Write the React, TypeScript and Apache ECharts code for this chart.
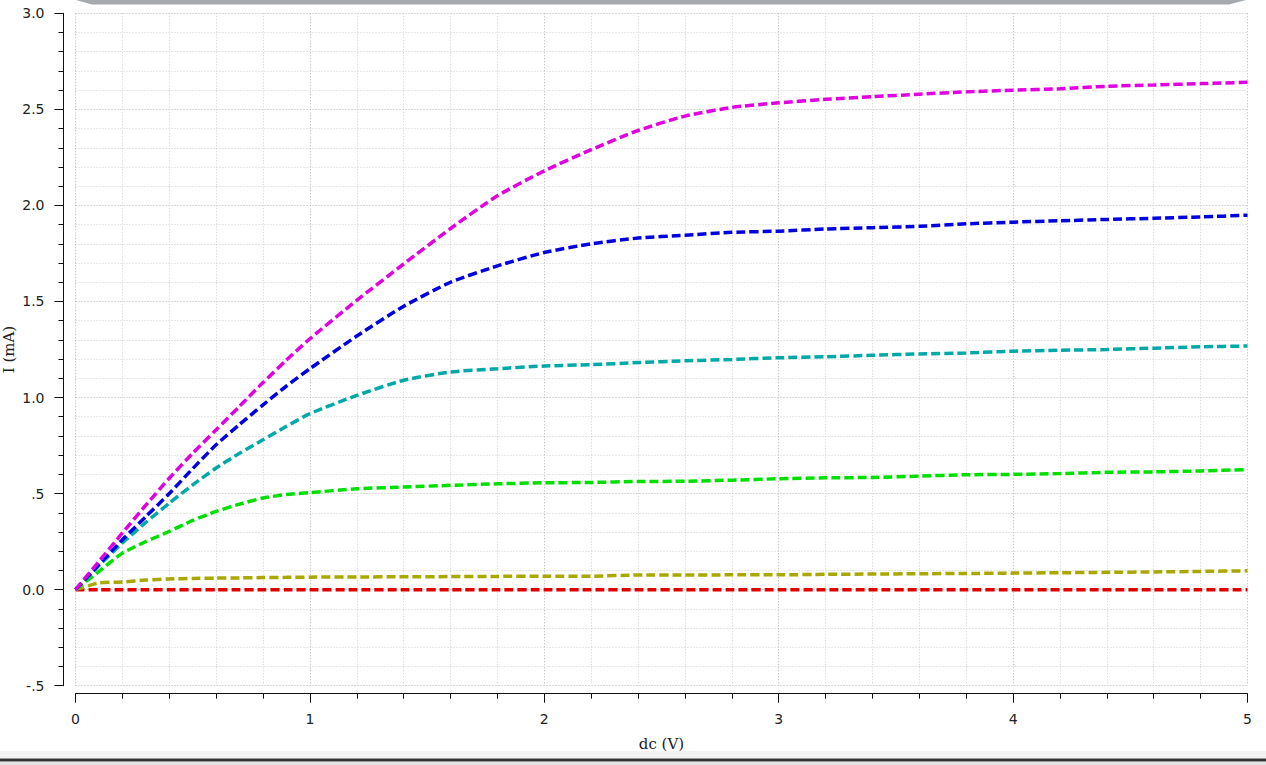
import React, { useEffect, useRef } from "react";
import * as echarts from "echarts";

const xValues = [0, 0.1, 0.2, 0.3, 0.4, 0.5, 0.6, 0.7, 0.8, 0.9, 1.0, 1.2, 1.4, 1.6, 1.8, 2.0, 2.2, 2.4, 2.6, 2.8, 3.0, 3.2, 3.4, 3.6, 3.8, 4.0, 4.2, 4.4, 4.6, 4.8, 5.0];

const magenta = [0, 0.147, 0.295, 0.44, 0.58, 0.71, 0.832, 0.955, 1.078, 1.195, 1.306, 1.506, 1.695, 1.88, 2.05, 2.18, 2.29, 2.39, 2.465, 2.51, 2.534, 2.552, 2.566, 2.579, 2.591, 2.6, 2.607, 2.62, 2.627, 2.634, 2.641];
const blue = [0, 0.13, 0.26, 0.38, 0.5, 0.63, 0.754, 0.86, 0.962, 1.06, 1.15, 1.32, 1.475, 1.6, 1.685, 1.755, 1.8, 1.83, 1.845, 1.86, 1.866, 1.877, 1.884, 1.891, 1.904, 1.913, 1.92, 1.927, 1.933, 1.94, 1.949];
const cyan = [0, 0.125, 0.243, 0.35, 0.45, 0.545, 0.633, 0.71, 0.78, 0.85, 0.916, 1.011, 1.09, 1.133, 1.15, 1.164, 1.171, 1.182, 1.191, 1.198, 1.207, 1.212, 1.22, 1.227, 1.232, 1.241, 1.246, 1.25, 1.257, 1.264, 1.268];
const green = [0, 0.095, 0.19, 0.25, 0.303, 0.36, 0.407, 0.445, 0.477, 0.495, 0.505, 0.525, 0.534, 0.543, 0.551, 0.556, 0.558, 0.563, 0.564, 0.57, 0.577, 0.582, 0.584, 0.591, 0.598, 0.6, 0.604, 0.611, 0.613, 0.618, 0.625];
const olive = [0, 0.035, 0.04, 0.05, 0.056, 0.058, 0.06, 0.061, 0.063, 0.064, 0.065, 0.066, 0.067, 0.068, 0.069, 0.07, 0.07, 0.076, 0.076, 0.077, 0.077, 0.08, 0.081, 0.083, 0.084, 0.086, 0.088, 0.09, 0.092, 0.095, 0.098];
const red = [0, 0, 0, 0, 0, 0, 0, 0, 0, 0, 0, 0, 0, 0, 0, 0, 0, 0, 0, 0, 0, 0, 0, 0, 0, 0, 0, 0, 0, 0, 0];

const seriesNames = ["red", "olive", "green", "cyan", "blue", "magenta"];
const seriesData = [red, olive, green, cyan, blue, magenta];
const seriesColors = ["#e00000", "#a8a800", "#00e000", "#00a8a8", "#0000e0", "#e000e0"];

const yTickValues = [-0.5, 0, 0.5, 1, 1.5, 2, 2.5, 3];
const yTickLabels = ["-.5", "0.0", ".5", "1.0", "1.5", "2.0", "2.5", "3.0"];
const xTickValues = [0, 1, 2, 3, 4, 5];
const xTickLabels = ["0", "1", "2", "3", "4", "5"];

const xName = "dc (V)";
const yName = "I (mA)";

export default function App() {
  const ref = useRef<HTMLDivElement>(null);
  useEffect(() => {
    if (!ref.current) return;
    const chart = echarts.init(ref.current, undefined, { renderer: "svg" });
    const labelFont = { fontFamily: "DejaVu Sans", fontSize: 14, color: "#222" };
    const nameFont = { fontFamily: "DejaVu Serif", fontSize: 15, color: "#222" };
    const majorGrid = { show: true, lineStyle: { color: "#b4b4b4", type: [1, 2], width: 1 } };
    const minorGrid = { show: true, lineStyle: { color: "#cfcfcf", type: [1, 2], width: 1 } };
    chart.setOption({
      animation: false,
      backgroundColor: "#ffffff",
      grid: { left: 75.5, right: 18.5, top: 13.3, bottom: 79.3, containLabel: false, outerBoundsMode: "none" },
      xAxis: {
        type: "value",
        min: 0,
        max: 5,
        interval: 1,
        offset: 8,
        name: xName,
        nameLocation: "middle",
        nameGap: 43,
        nameMoveOverlap: false,
        nameTextStyle: nameFont,
        axisLine: { show: true, onZero: false, lineStyle: { color: "#111", width: 1 } },
        axisTick: { show: true, length: 9, lineStyle: { color: "#111", width: 1 } },
        minorTick: { show: true, splitNumber: 5, length: 5, lineStyle: { color: "#111", width: 1 } },
        axisLabel: {
          ...labelFont,
          margin: 18,
          formatter: (v: number) => {
            const i = xTickValues.findIndex((t) => Math.abs(t - v) < 1e-9);
            return i >= 0 ? xTickLabels[i] : "";
          },
        },
        splitLine: majorGrid,
        minorSplitLine: minorGrid,
      },
      yAxis: {
        type: "value",
        min: -0.5,
        max: 3,
        interval: 0.5,
        offset: 12,
        name: yName,
        nameLocation: "middle",
        nameGap: 47,
        nameMoveOverlap: false,
        nameRotate: 90,
        nameTextStyle: nameFont,
        axisLine: { show: true, onZero: false, lineStyle: { color: "#111", width: 1 } },
        axisTick: { show: true, length: 9, lineStyle: { color: "#111", width: 1 } },
        minorTick: { show: true, splitNumber: 5, length: 5, lineStyle: { color: "#111", width: 1 } },
        axisLabel: {
          ...labelFont,
          margin: 19,
          formatter: (v: number) => {
            const i = yTickValues.findIndex((t) => Math.abs(t - v) < 1e-9);
            return i >= 0 ? yTickLabels[i] : "";
          },
        },
        splitLine: majorGrid,
        minorSplitLine: minorGrid,
      },
      series: seriesNames.map((name, k) => ({
        name,
        type: "line",
        showSymbol: false,
        smooth: 0.2,
        data: xValues.map((x, i) => [x, seriesData[k][i]]),
        lineStyle: { color: seriesColors[k], width: 3.5, type: [9, 4] },
        itemStyle: { color: seriesColors[k] },
      })),
      graphic: [
        {
          type: "polygon",
          shape: { points: [[76, 0], [92, 4.5], [1229, 4.5], [1246, 0]] },
          style: { fill: "#a6aaaf" },
          silent: true,
        },
        { type: "rect", shape: { x: 0, y: 751, width: 1266, height: 7 }, style: { fill: "#f2f2f2" }, silent: true },
        { type: "rect", shape: { x: 0, y: 758.5, width: 1266, height: 2.5 }, style: { fill: "#333333" }, silent: true },
        { type: "rect", shape: { x: 0, y: 761, width: 1266, height: 1 }, style: { fill: "#9a9a9a" }, silent: true },
        { type: "rect", shape: { x: 0, y: 762, width: 1266, height: 3 }, style: { fill: "#e4e4e4" }, silent: true },
      ],
    });
    return () => chart.dispose();
  }, []);
  return (
    <div
      ref={ref}
      style={{ position: "fixed", left: 0, top: 0, width: 1266, height: 765, background: "#fff" }}
    />
  );
}
